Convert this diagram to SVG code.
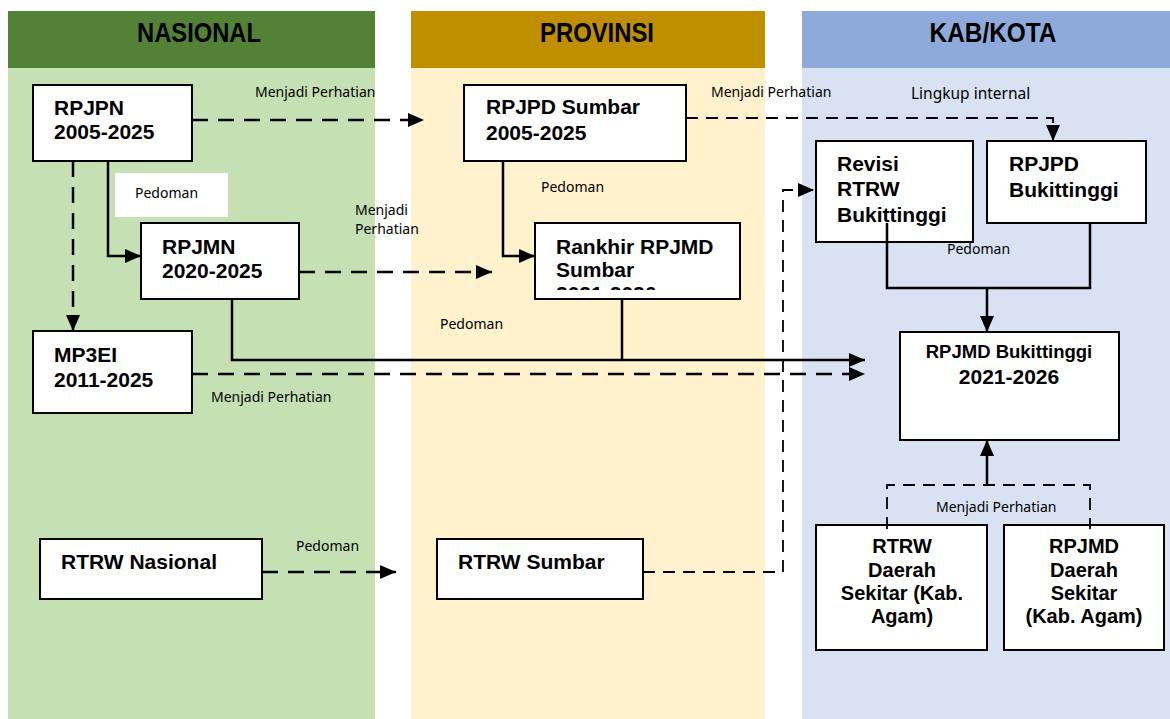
<svg xmlns="http://www.w3.org/2000/svg" width="1170" height="719" viewBox="0 0 1170 719">
<style>
.box{fill:#fff;stroke:#000;stroke-width:2}
.t{font-family:"Liberation Sans",Arial,sans-serif;font-weight:bold;font-size:21px;fill:#000}
.tc{font-family:"Liberation Sans",Arial,sans-serif;font-weight:bold;font-size:20px;fill:#000;text-anchor:middle}
.hd{font-family:"Liberation Sans Narrow","Liberation Sans",Arial,sans-serif;font-weight:bold;font-size:28px;fill:#000;text-anchor:middle}
.lb{font-family:"Noto Sans","Open Sans",sans-serif;font-size:14px;fill:#000}
.ln{fill:none;stroke:#000;stroke-width:2.5}
.dl{fill:none;stroke:#000;stroke-width:2.5;stroke-dasharray:16 10}
.dt{fill:none;stroke:#000;stroke-width:1.8;stroke-dasharray:12 8}
</style>
<defs>
<marker id="ah" markerUnits="userSpaceOnUse" viewBox="0 0 16 14" markerWidth="16" markerHeight="15" refX="16" refY="7" orient="auto"><path d="M0,0 L16,7 L0,14 z" fill="#000"/></marker>
<clipPath id="clipR"><rect x="535" y="223" width="205" height="67"/></clipPath>
</defs>
<rect width="1170" height="719" fill="#fff"/>
<g id="lanes">
<rect x="8" y="68" width="367" height="651" fill="#C5E0B3"/>
<rect x="8" y="11" width="367" height="57" fill="#538135"/>
<text class="hd" x="199" y="42" textLength="124" lengthAdjust="spacingAndGlyphs">NASIONAL</text>
<rect x="411" y="68" width="354" height="651" fill="#FFF2CC"/>
<rect x="411" y="11" width="354" height="57" fill="#BF8F00"/>
<text class="hd" x="597" y="42" textLength="114" lengthAdjust="spacingAndGlyphs">PROVINSI</text>
<rect x="802" y="68" width="368" height="651" fill="#D9E2F3"/>
<rect x="802" y="11" width="368" height="57" fill="#8EAADB"/>
<text class="hd" x="993" y="42" textLength="127" lengthAdjust="spacingAndGlyphs">KAB/KOTA</text>
</g>
<g id="labels">
<rect x="115" y="173" width="113" height="44" fill="#fff"/>
<text class="lb" x="135" y="198">Pedoman</text>
<text class="lb" x="255" y="97">Menjadi Perhatian</text>
<text class="lb" x="355" y="215">Menjadi</text>
<text class="lb" x="355" y="234">Perhatian</text>
<text class="lb" x="211" y="402">Menjadi Perhatian</text>
<text class="lb" x="541" y="192">Pedoman</text>
<text class="lb" x="440" y="329">Pedoman</text>
<text class="lb" x="711" y="97">Menjadi Perhatian</text>
<text class="lb" x="911" y="99" style="font-size:15.5px">Lingkup internal</text>
<text class="lb" x="947" y="254">Pedoman</text>
<text class="lb" x="296" y="551">Pedoman</text>
<text class="lb" x="936" y="512">Menjadi Perhatian</text>
</g>
<g id="n-rpjpn"><rect class="box" x="33" y="85" width="159" height="76"/><text class="t" x="54" y="115">RPJPN</text><text class="t" x="54" y="139">2005-2025</text></g>
<g id="n-rpjmn"><rect class="box" x="141" y="223" width="158" height="76"/><text class="t" x="162" y="254">RPJMN</text><text class="t" x="162" y="278">2020-2025</text></g>
<g id="n-mp3ei"><rect class="box" x="33" y="331" width="159" height="82"/><text class="t" x="54" y="362">MP3EI</text><text class="t" x="54" y="387">2011-2025</text></g>
<g id="n-rtrwnas"><rect class="box" x="40" y="539" width="222" height="60"/><text class="t" x="61" y="569">RTRW Nasional</text></g>
<g id="n-rpjpdsumbar"><rect class="box" x="464" y="85" width="222" height="76"/><text class="t" x="486" y="114">RPJPD Sumbar</text><text class="t" x="486" y="140">2005-2025</text></g>
<g id="n-rankhir"><rect class="box" x="535" y="223" width="205" height="76"/><text class="t" x="556" y="254">Rankhir RPJMD</text><text class="t" x="556" y="277">Sumbar</text><text class="t" x="556" y="301" clip-path="url(#clipR)">2021-2026</text></g>
<g id="n-rtrwsumbar"><rect class="box" x="437" y="539" width="206" height="60"/><text class="t" x="458" y="569">RTRW Sumbar</text></g>
<g id="n-revisi"><rect class="box" x="816" y="141" width="157" height="101"/><text class="t" x="837" y="171">Revisi</text><text class="t" x="837" y="196">RTRW</text><text class="t" x="837" y="222">Bukittinggi</text></g>
<g id="n-rpjpdbkt"><rect class="box" x="987" y="141" width="159" height="82"/><text class="t" x="1009" y="171">RPJPD</text><text class="t" x="1009" y="197">Bukittinggi</text></g>
<g id="n-rpjmdbkt"><rect class="box" x="900" y="332" width="219" height="108"/><text class="tc" x="1009" y="358" style="font-size:18.5px">RPJMD Bukittinggi</text><text class="tc" x="1009" y="384" style="font-size:21px">2021-2026</text></g>
<g id="n-rtrwdaerah"><rect class="box" x="816" y="525" width="171" height="125"/><text class="tc" x="902" y="553">RTRW</text><text class="tc" x="902" y="577">Daerah</text><text class="tc" x="902" y="600">Sekitar (Kab.</text><text class="tc" x="902" y="623">Agam)</text></g>
<g id="n-rpjmddaerah"><rect class="box" x="1004" y="525" width="160" height="125"/><text class="tc" x="1084" y="553">RPJMD</text><text class="tc" x="1084" y="577">Daerah</text><text class="tc" x="1084" y="600">Sekitar</text><text class="tc" x="1084" y="623">(Kab. Agam)</text></g>
<g id="connectors">
<path class="dl" d="M192,120 H424" marker-end="url(#ah)"/>
<path class="dl" d="M73,161 V331" marker-end="url(#ah)"/>
<path class="ln" d="M108,161 V256 H141" marker-end="url(#ah)"/>
<path class="dl" d="M299,272 H492" marker-end="url(#ah)"/>
<path class="ln" d="M503,161 V256 H535" marker-end="url(#ah)"/>
<path class="ln" d="M232,299 V360 H865" marker-end="url(#ah)"/>
<path class="ln" d="M622,299 V360"/>
<path class="dl" d="M192,374 H865" marker-end="url(#ah)"/>
<path class="dt" d="M686,118 H1053 V141" marker-end="url(#ah)"/>
<path class="dl" d="M262,572 H396" marker-end="url(#ah)"/>
<path class="dt" d="M643,572 H783 V190 H814" marker-end="url(#ah)"/>
<path class="ln" d="M887,223 V288 H1090 V223"/>
<path class="ln" d="M987,288 V332" marker-end="url(#ah)"/>
<path class="dt" d="M887,529 V485 H1090 V529"/>
<path class="ln" d="M987,485 V440" marker-end="url(#ah)"/>
</g>
</svg>
